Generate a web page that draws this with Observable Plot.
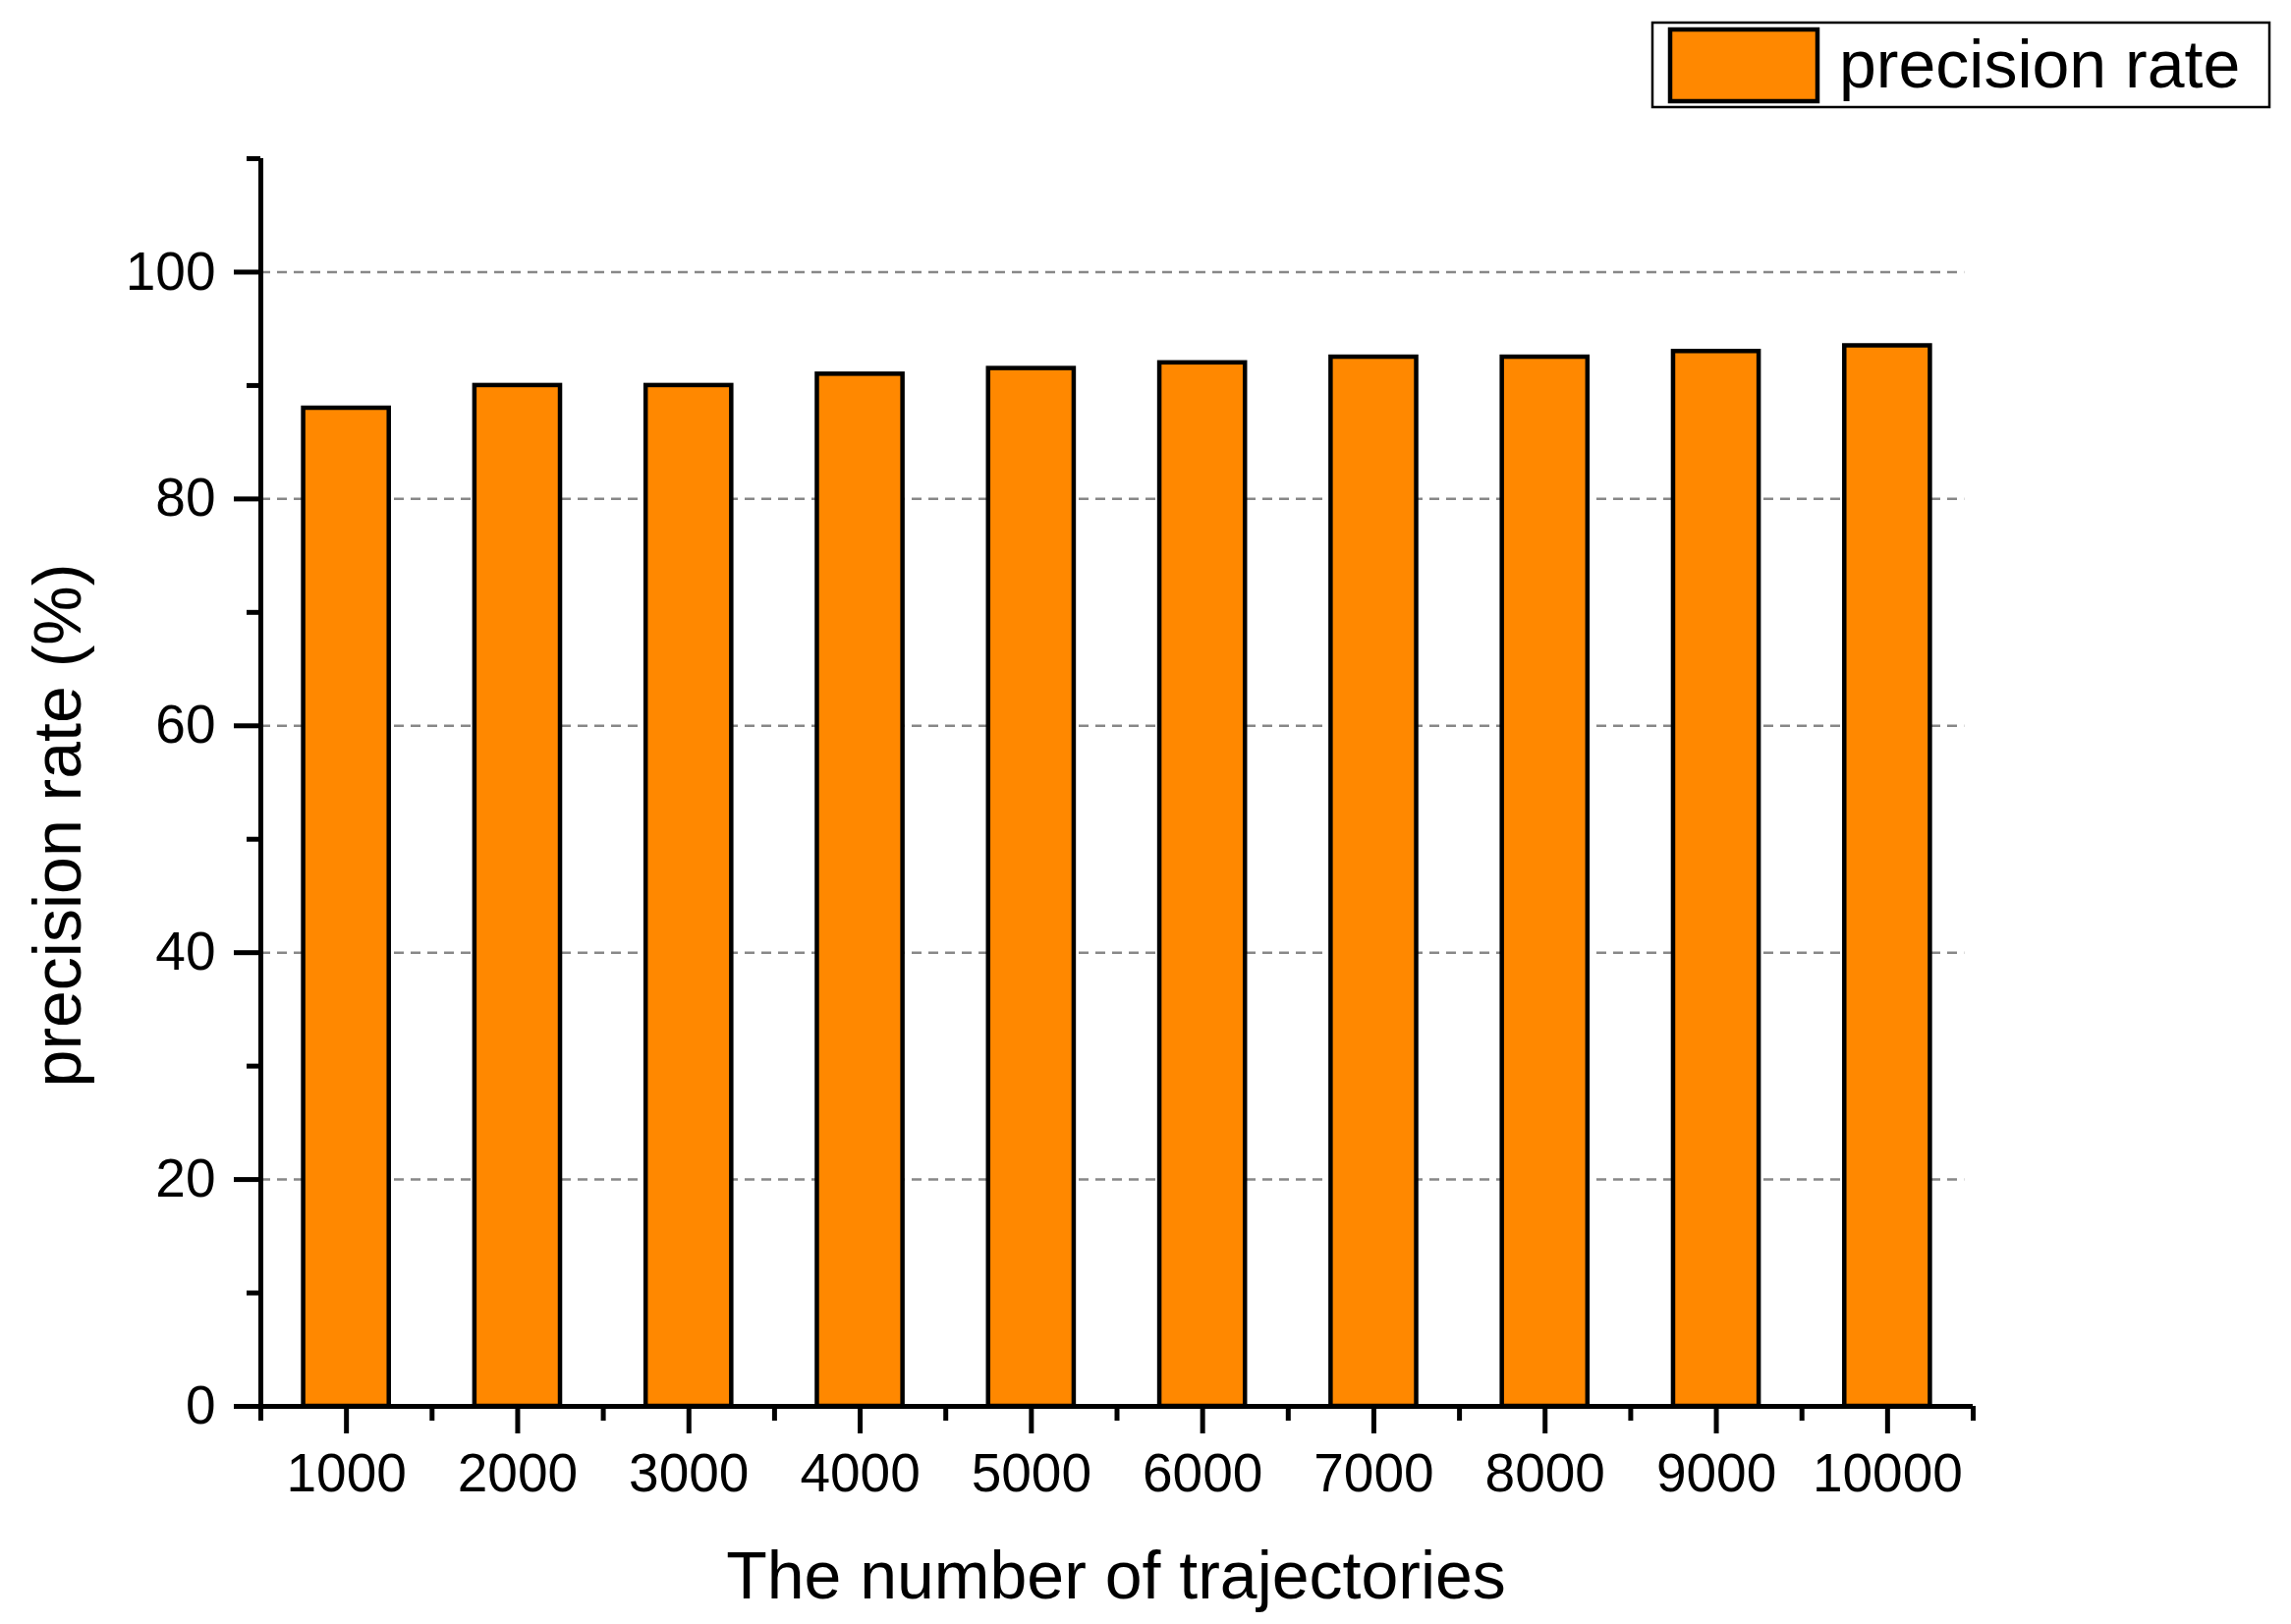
<!DOCTYPE html>
<html>
<head>
<meta charset="utf-8">
<script src="https://cdn.jsdelivr.net/npm/d3@7"></script>
<script src="https://cdn.jsdelivr.net/npm/@observablehq/plot@0.6"></script>
<style>
  html, body { margin: 0; padding: 0; background: #fff; }
  #chart svg { display: block; }
</style>
</head>
<body>
<div id="chart"></div>
<script>
// ---- data ----
const trajectories = [1000, 2000, 3000, 4000, 5000, 6000, 7000, 8000, 9000, 10000];
const precision = [88, 90, 90, 91, 91.5, 92, 92.5, 92.5, 93, 93.5];
const yTicks = [0, 20, 40, 60, 80, 100];
const yMinorTicks = [10, 30, 50, 70, 90, 110];
const gridTicks = [20, 40, 60, 80, 100];
const xMinorTicks = [500, 1500, 2500, 3500, 4500, 5500, 6500, 7500, 8500, 9500, 10500];
const xDomain = [500, 10500];
const yDomain = [0, 110];
const barHalfWidth = 250;
const seriesName = "precision rate";
const xTitle = "The number of trajectories";
const yTitle = "precision rate (%)";

const rows = trajectories.map((n, i) => ({n, v: precision[i]}));

const W = 2332, H = 1653;
const FONT = "'Liberation Sans', Arial, Helvetica, sans-serif";
const ORANGE = "#FF8800";

const chart = Plot.plot({
  width: W,
  height: H,
  marginLeft: 265,
  marginRight: 324,
  marginTop: 161,
  marginBottom: 222,
  style: {fontFamily: FONT, fontSize: "55px", color: "#000", background: "#fff"},
  x: {type: "linear", domain: xDomain},
  y: {type: "linear", domain: yDomain},
  marks: [
    Plot.ruleY(gridTicks, {stroke: "#888", strokeWidth: 2.5, strokeDasharray: "10,7", x1: xDomain[0], x2: 10450}),
    Plot.rectY(rows, {
      x1: d => d.n - barHalfWidth,
      x2: d => d.n + barHalfWidth,
      y1: 0,
      y2: "v",
      fill: ORANGE,
      stroke: "#000",
      strokeWidth: 4.5
    }),
    Plot.axisY({ticks: yTicks, tickSize: 27, tickPadding: 19, fontSize: 55, strokeWidth: 5, label: null}),
    Plot.axisY({ticks: yMinorTicks, tickSize: 14, tickFormat: () => "", strokeWidth: 5, label: null}),
    Plot.axisX({ticks: trajectories, tickSize: 28, tickPadding: 19, fontSize: 55, strokeWidth: 5, tickFormat: d => String(d), label: null}),
    Plot.axisX({ticks: xMinorTicks, tickSize: 15, tickFormat: () => "", strokeWidth: 5, label: null}),
    Plot.ruleX([xDomain[0]], {stroke: "#000", strokeWidth: 5}),
    Plot.ruleY([0], {stroke: "#000", strokeWidth: 5})
  ]
});

document.getElementById("chart").appendChild(chart);

// titles and legend
const svg = d3.select(chart);
svg.append("text")
  .attr("transform", "translate(82,840) rotate(-90)")
  .attr("text-anchor", "middle")
  .attr("font-family", FONT)
  .attr("font-size", 68)
  .attr("fill", "#000")
  .text(yTitle);

svg.append("text")
  .attr("x", 1136)
  .attr("y", 1627)
  .attr("text-anchor", "middle")
  .attr("font-family", FONT)
  .attr("font-size", 68)
  .attr("fill", "#000")
  .text(xTitle);

const lg = svg.append("g");
lg.append("rect")
  .attr("x", 1682).attr("y", 23).attr("width", 628).attr("height", 86)
  .attr("fill", "#fff").attr("stroke", "#000").attr("stroke-width", 2.5);
lg.append("rect")
  .attr("x", 1700).attr("y", 30).attr("width", 150).attr("height", 73)
  .attr("fill", ORANGE).attr("stroke", "#000").attr("stroke-width", 4.5);
lg.append("text")
  .attr("x", 1872).attr("y", 89)
  .attr("text-anchor", "start")
  .attr("font-family", FONT)
  .attr("font-size", 68)
  .attr("fill", "#000")
  .text(seriesName);
</script>
</body>
</html>
